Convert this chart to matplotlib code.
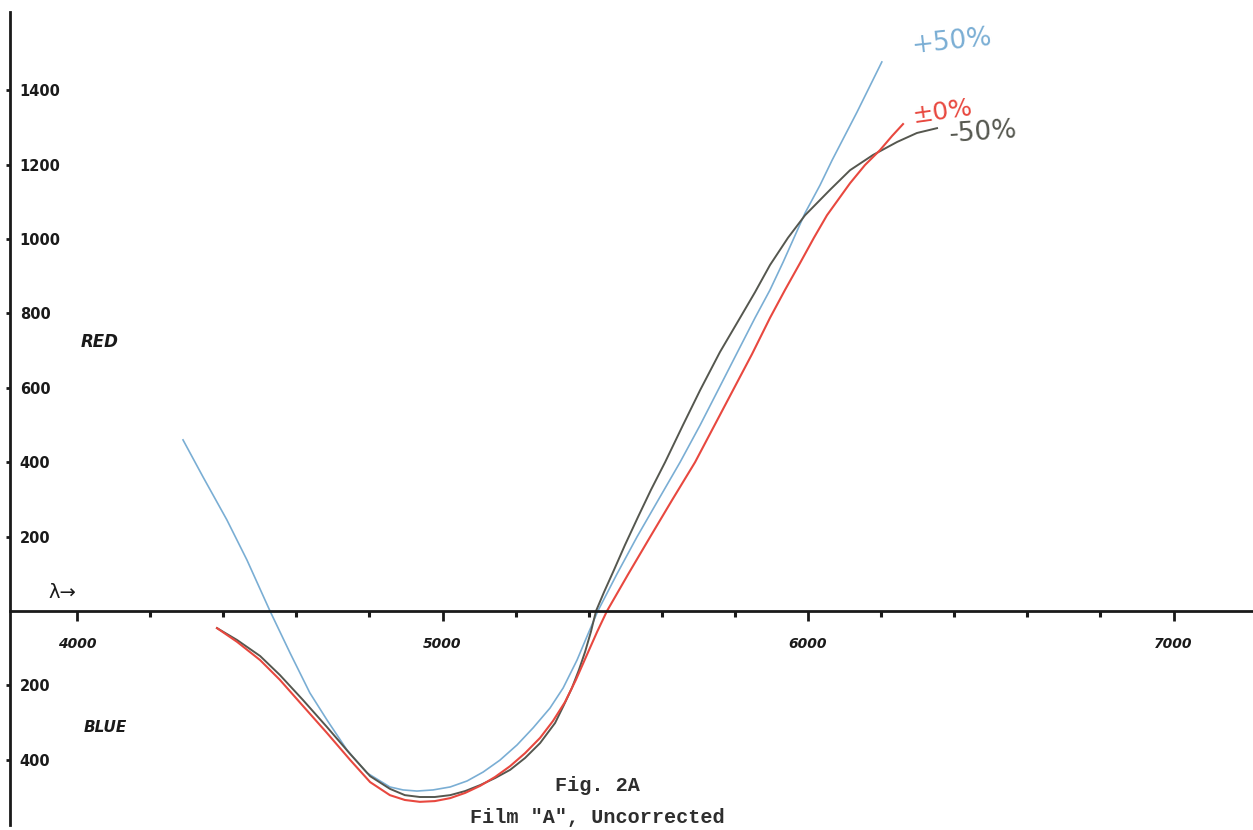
import matplotlib
matplotlib.use("Agg")
import matplotlib.pyplot as plt

# ---- data (wavelength in Angstrom, response value) ----
blue_wl = [4290, 4345, 4410, 4465, 4528, 4583, 4637, 4684, 4739, 4793, 4856, 4892, 4930,
           4974, 5021, 5067, 5111, 5157, 5204, 5248, 5294, 5330, 5368, 5398, 5425,
           5477, 5532, 5590, 5650, 5705, 5754, 5806, 5855, 5896, 5932, 5992, 6033,
           6066, 6134, 6202]
blue_val = [460, 360, 245, 137, 0, -113, -220, -293, -374, -435, -473, -481, -484,
            -481, -473, -457, -433, -401, -360, -314, -261, -207, -132, -62, 0,
            99, 199, 298, 400, 500, 594, 694, 788, 863, 938, 1070, 1145,
            1212, 1341, 1476]

red_wl = [4383, 4438, 4501, 4555, 4618, 4684, 4747, 4802, 4856, 4897, 4938, 4979, 5021,
          5062, 5103, 5144, 5185, 5226, 5267, 5302, 5335, 5365, 5395, 5423, 5450,
          5508, 5568, 5628, 5691, 5743, 5795, 5847, 5896, 5937, 5978, 6016, 6052,
          6115, 6156, 6197, 6230, 6260]
red_val = [-46, -83, -132, -185, -255, -328, -400, -460, -495, -508, -513, -511, -503,
           -489, -470, -446, -417, -382, -341, -296, -245, -185, -118, -56, 0,
           99, 199, 298, 400, 497, 594, 691, 788, 863, 935, 1003, 1064,
           1150, 1199, 1239, 1277, 1309]

black_wl = [4383, 4438, 4501, 4555, 4618, 4684, 4747, 4802, 4856, 4897, 4938, 4979, 5021,
            5062, 5103, 5144, 5185, 5226, 5267, 5308, 5332, 5354, 5373, 5390, 5406,
            5420, 5442, 5469, 5499, 5535, 5570, 5609, 5658, 5705, 5759, 5814, 5855,
            5896, 5945, 5992, 6060, 6115, 6178, 6244, 6298, 6353]
black_val = [-46, -78, -121, -172, -239, -312, -384, -444, -478, -495, -500, -500, -495,
             -484, -468, -449, -427, -395, -355, -301, -253, -207, -159, -110, -56,
             0, 51, 110, 177, 253, 325, 400, 500, 594, 696, 788, 857,
             930, 1003, 1064, 1132, 1185, 1226, 1261, 1285, 1298]

series_labels = ["+50%", "\u00b10%", "-50%"]
ytick_vals = [1400, 1200, 1000, 800, 600, 400, 200, -200, -400]
ytick_labels = ["1400", "1200", "1000", "800", "600", "400", "200", "200", "400"]
xtick_major = [4000, 5000, 6000, 7000]
xtick_labels = ["4000", "5000", "6000", "7000"]
xtick_minor = list(range(4200, 7200, 200))

C_BLUE = "#7aaed4"
C_RED = "#e8483f"
C_BLACK = "#55574f"
C_INK = "#1a1a1a"

fig = plt.figure(figsize=(12.53, 8.30), dpi=100)
ax = fig.add_axes([0, 0, 1, 1])
ax.set_xlim(3789.3, 7217.5)
ax.set_ylim(-588.7, 1642.5)

Y_AXIS_X = 3816.7
ax.spines["top"].set_visible(False)
ax.spines["right"].set_visible(False)
ax.spines["left"].set_position(("data", Y_AXIS_X))
ax.spines["bottom"].set_position(("data", 0))
ax.spines["left"].set_bounds(-575, 1610)
ax.spines["bottom"].set_bounds(Y_AXIS_X, 7217.5)
for s in ("left", "bottom"):
    ax.spines[s].set_linewidth(2.0)
    ax.spines[s].set_color(C_INK)

ax.plot(blue_wl, blue_val, color=C_BLUE, lw=1.2, solid_joinstyle="round")
ax.plot(black_wl, black_val, color=C_BLACK, lw=1.4, solid_joinstyle="round")
ax.plot(red_wl, red_val, color=C_RED, lw=1.5, solid_joinstyle="round")

# ticks
ax.set_xticks(xtick_major)
ax.set_xticklabels(xtick_labels)
ax.set_xticks(xtick_minor, minor=True)
ax.tick_params(axis="x", which="major", direction="out", length=7, width=2,
               pad=12, labelsize=10, colors=C_INK)
ax.tick_params(axis="x", which="minor", direction="out", length=4, width=2.2,
               colors=C_INK)
for t in ax.get_xticklabels():
    t.set_fontweight("bold")
    t.set_fontstyle("italic")

ax.set_yticks(ytick_vals)
ax.set_yticklabels(ytick_labels)
ax.tick_params(axis="y", direction="out", length=3, width=2, pad=-10,
               labelsize=10.5, colors=C_INK)
for t in ax.get_yticklabels():
    t.set_horizontalalignment("left")
    t.set_fontweight("bold")

# hand-written annotations
ax.text(3959, 51, "\u03bb\u2192", fontsize=14, ha="center", va="center", color=C_INK)
ax.text(4063, 723, "RED", fontsize=12, fontstyle="italic", fontweight="bold",
        ha="center", va="center", color=C_INK)
ax.text(4077, -314, "BLUE", fontsize=11, fontstyle="italic", fontweight="bold",
        ha="center", va="center", color=C_INK)

ax.text(6394, 1529, series_labels[0], fontsize=19, color=C_BLUE, ha="center",
        va="center", rotation=6)
ax.text(6367, 1341, series_labels[1], fontsize=18, color=C_RED, ha="center",
        va="center", rotation=8)
ax.text(6480, 1285, series_labels[2], fontsize=19, color=C_BLACK, ha="center",
        va="center", rotation=4)

ax.text(5423, -468, "Fig. 2A", fontsize=14.5, family="Liberation Mono",
        fontweight="bold", ha="center", va="center", color="#2e2e2e")
ax.text(5423, -556, 'Film "A", Uncorrected', fontsize=14.5, family="Liberation Mono",
        fontweight="bold", ha="center", va="center", color="#2e2e2e")

fig.savefig("out.png", dpi=100)
